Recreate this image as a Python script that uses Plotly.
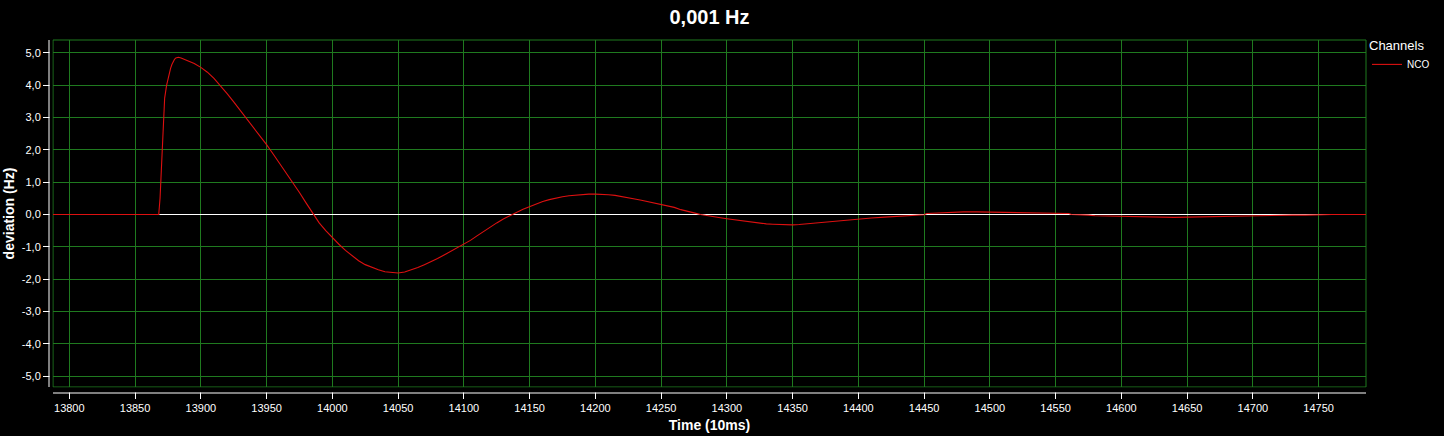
import plotly.graph_objects as go

# ---- data ----
time_nco = [13780, 13868, 13869, 13870, 13871, 13871.5, 13872.5, 13874, 13875, 13876, 13877, 13878,
            13879, 13880, 13881, 13882, 13883,
            13885, 13890, 13895, 13900, 13905, 13910, 13915, 13920, 13925, 13930, 13935, 13940,
            13945, 13950, 13955, 13960, 13965, 13970, 13975, 13980, 13985, 13990, 13995, 14000,
            14005, 14010, 14015, 14020, 14025, 14030, 14035, 14040, 14045, 14050, 14055, 14060,
            14065, 14070, 14075, 14080, 14085, 14090, 14095, 14100, 14105, 14110, 14115, 14120,
            14125, 14130, 14135, 14140, 14145, 14150, 14155, 14160, 14165, 14170, 14175, 14180,
            14185, 14190, 14195, 14200, 14205, 14210, 14215, 14220, 14225, 14230, 14235, 14240,
            14245, 14250, 14255, 14260, 14265, 14270, 14275, 14280, 14285, 14290, 14295, 14300,
            14305, 14310, 14315, 14320, 14325, 14330, 14335, 14340, 14345, 14350, 14355, 14360,
            14365, 14370, 14375, 14380, 14385, 14390, 14395, 14400, 14410, 14420, 14430, 14440,
            14450, 14452, 14460, 14470, 14480, 14490, 14500, 14510, 14520, 14530, 14540, 14550,
            14560, 14562, 14570, 14575, 14580, 14590, 14600, 14610, 14620, 14630, 14640, 14650,
            14660, 14670, 14680, 14690, 14700, 14710, 14720, 14730, 14740, 14750, 14760, 14800]
dev_nco = [0, 0, 0.5, 1.5, 2.3, 3.0, 3.6, 4.0, 4.2, 4.38, 4.52, 4.64,
           4.73, 4.80, 4.84, 4.86, 4.86,
           4.84, 4.76, 4.67, 4.55, 4.40, 4.21, 3.99, 3.74, 3.48, 3.22, 2.96, 2.69,
           2.43, 2.16, 1.87, 1.58, 1.30, 1.00, 0.68, 0.36, 0.04, -0.26, -0.50, -0.72,
           -0.92, -1.11, -1.28, -1.43, -1.55, -1.64, -1.71, -1.77, -1.80, -1.81, -1.78, -1.72,
           -1.64, -1.55, -1.46, -1.36, -1.25, -1.14, -1.03, -0.93, -0.80, -0.66, -0.52, -0.38,
           -0.26, -0.14, -0.03, 0.06, 0.16, 0.24, 0.33, 0.40, 0.46, 0.51, 0.55, 0.58,
           0.60, 0.62, 0.63, 0.63, 0.63, 0.61, 0.59, 0.56, 0.52, 0.48, 0.44, 0.40,
           0.36, 0.32, 0.28, 0.22, 0.15, 0.09, 0.05, 0.00, -0.04, -0.07, -0.10, -0.13,
           -0.16, -0.19, -0.22, -0.25, -0.27, -0.29, -0.30, -0.31, -0.32, -0.32, -0.31, -0.29,
           -0.27, -0.25, -0.23, -0.21, -0.19, -0.17, -0.16, -0.14, -0.11, -0.08, -0.05, -0.03,
           -0.01, 0.03, 0.05, 0.07, 0.08, 0.08, 0.07, 0.06, 0.06, 0.05, 0.05, 0.04,
           0.03, 0.0, 0.0, -0.02, -0.04, -0.05, -0.06, -0.07, -0.08, -0.09, -0.09, -0.08,
           -0.07, -0.06, -0.05, -0.04, -0.03, -0.03, -0.03, -0.02, -0.02, -0.01, 0, 0]

time_ref = [13868.5, 14760]
dev_ref = [0, 0]

x_ticks = list(range(13800, 14751, 50))
y_ticks = [5, 4, 3, 2, 1, 0, -1, -2, -3, -4, -5]
y_tick_labels = ["5,0", "4,0", "3,0", "2,0", "1,0", "0,0", "-1,0", "-2,0", "-3,0", "-4,0", "-5,0"]

# ---- layout geometry ----
W, H = 1444, 436
ML, MR, MT, MB = 53, 78, 40, 49
PW, PH = W - ML - MR, H - MT - MB

GREEN = "#1f7a1f"
FONT = "Liberation Sans, Arial, sans-serif"

fig = go.Figure()
fig.add_trace(go.Scatter(x=time_ref, y=dev_ref, mode="lines", showlegend=False,
                         line=dict(color="white", width=1), hoverinfo="skip"))
fig.add_trace(go.Scatter(x=time_nco, y=dev_nco, mode="lines", name="NCO",
                         line=dict(color="#dd1010", width=1.1)))

def px_x(p):
    return p / PW

def px_y(p):
    return p / PH

shapes = [
    # plot frame
    dict(type="rect", xref="paper", yref="paper", x0=0, x1=1, y0=0, y1=1,
         line=dict(color=GREEN, width=1), layer="between"),
    # cover ticks in the gap between frame and axis lines
    dict(type="rect", xref="paper", yref="paper", x0=-0.5, x1=1.2,
         y0=-px_y(5.5), y1=-px_y(0.6), fillcolor="black", line=dict(width=0), layer="above"),
    dict(type="rect", xref="paper", yref="paper", x0=-px_x(3.5), x1=-px_x(0.6),
         y0=-0.2, y1=1.2, fillcolor="black", line=dict(width=0), layer="above"),
    # axis lines
    dict(type="line", xref="paper", yref="paper", x0=0, x1=1,
         y0=-px_y(6), y1=-px_y(6), line=dict(color="white", width=1), layer="above"),
    dict(type="line", xref="paper", yref="paper", x0=-px_x(4), x1=-px_x(4),
         y0=0, y1=1, line=dict(color="white", width=1), layer="above"),
]

fig.update_layout(
    width=W, height=H,
    margin=dict(l=ML, r=MR, t=MT, b=MB, pad=0, autoexpand=False),
    paper_bgcolor="black", plot_bgcolor="black",
    font=dict(family=FONT, color="white", size=11),
    title=dict(text="<b>0,001 Hz</b>", x=0.5, xref="paper", xanchor="center",
               y=1 - 17 / H, yanchor="middle", font=dict(size=20, color="white")),
    shapes=shapes,
    showlegend=True,
    hovermode=False,
    legend=dict(title=dict(text="Channels", font=dict(size=13, color="white")),
                x=1 + px_x(1), xanchor="left", y=1 + px_y(7), yanchor="top",
                font=dict(size=10, color="white"), bgcolor="rgba(0,0,0,0)",
                itemwidth=30, tracegroupgap=0),
    xaxis=dict(range=[13787.6, 14786], tickmode="array", tickvals=x_ticks,
               ticktext=[str(v) for v in x_ticks], automargin=False,
               showgrid=True, gridcolor=GREEN, gridwidth=1, zeroline=False,
               showline=False, ticks="outside", ticklen=11, tickcolor="white", tickwidth=1,
               tickfont=dict(size=11, color="white", family=FONT),
               title=dict(text="<b>Time (10ms)</b>", font=dict(size=14, color="white"), standoff=6)),
    yaxis=dict(range=[-5.334, 5.396], tickmode="array", tickvals=y_ticks, ticktext=y_tick_labels,
               automargin=False,
               showgrid=True, gridcolor=GREEN, gridwidth=1, zeroline=False,
               showline=False, ticks="outside", ticklen=9, tickcolor="white", tickwidth=1,
               tickfont=dict(size=11, color="white", family=FONT),
               title=dict(text="<b>deviation (Hz)</b>", font=dict(size=14, color="white"), standoff=3)),
)

fig.write_html("out.html", config={"displayModeBar": False, "staticPlot": True},
               post_script="document.body.style.margin='0';document.body.style.background='black';")
